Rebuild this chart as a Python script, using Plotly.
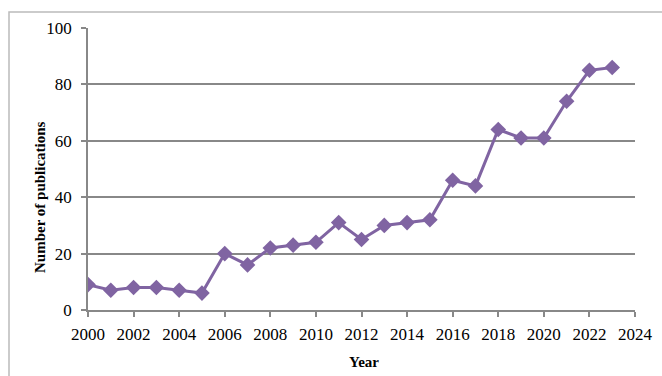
import plotly.graph_objects as go

years = list(range(2000, 2024))
publications = [9, 7, 8, 8, 7, 6, 20, 16, 22, 23, 24, 31, 25, 30, 31, 32, 46, 44, 64, 61, 61, 74, 85, 86]
x_ticks = list(range(2000, 2025, 2))
y_ticks = [0, 20, 40, 60, 80, 100]
x_title = "Year"
y_title = "Number of publications"

fig = go.Figure()
fig.add_trace(go.Scatter(
    x=years, y=publications, mode="lines+markers",
    line=dict(color="#8064A2", width=3),
    marker=dict(symbol="diamond", size=12, color="#8064A2"),
    showlegend=False,
))

font = dict(family="Liberation Serif, Times New Roman, serif", color="#000000")
fig.update_layout(
    width=662, height=376,
    margin=dict(l=88, r=27, t=28, b=66),
    paper_bgcolor="white", plot_bgcolor="white",
    font=dict(**font, size=16),
    xaxis=dict(
        range=[2000, 2024], tickvals=x_ticks, ticktext=[str(v) for v in x_ticks],
        showgrid=False, showline=True, linecolor="#888888", linewidth=1.5,
        ticks="outside", ticklen=5, tickcolor="#888888", tickwidth=1.5,
        ticklabelstandoff=3, automargin=False,
        tickfont=dict(**font, size=17), zeroline=False,
    ),
    yaxis=dict(
        range=[0, 100], tickvals=y_ticks,
        showgrid=True, gridcolor="#888888", gridwidth=1.5,
        showline=True, linecolor="#888888", linewidth=1.5,
        ticks="outside", ticklen=5, tickcolor="#888888", tickwidth=1.5,
        ticklabelstandoff=6, automargin=False,
        tickfont=dict(**font, size=17), zeroline=False,
    ),
)
fig.add_annotation(text="<b>%s</b>" % x_title, xref="paper", yref="paper",
                   x=(364 - 88) / 547, y=(310 - 362) / 282, showarrow=False,
                   xanchor="center", yanchor="middle", font=dict(**font, size=15))
fig.add_annotation(text="<b>%s</b>" % y_title, xref="paper", yref="paper",
                   x=(40 - 88) / 547, y=(310 - 197) / 282, showarrow=False, textangle=-90,
                   xanchor="center", yanchor="middle", font=dict(**font, size=15))
fig.add_shape(type="rect", xref="paper", yref="paper",
              x0=-79/547, x1=1.2, y0=-1.0, y1=(310-12)/282,
              line=dict(color="#BBBBBB", width=1.5), fillcolor="rgba(0,0,0,0)", layer="below")
fig.write_html("out.html")
